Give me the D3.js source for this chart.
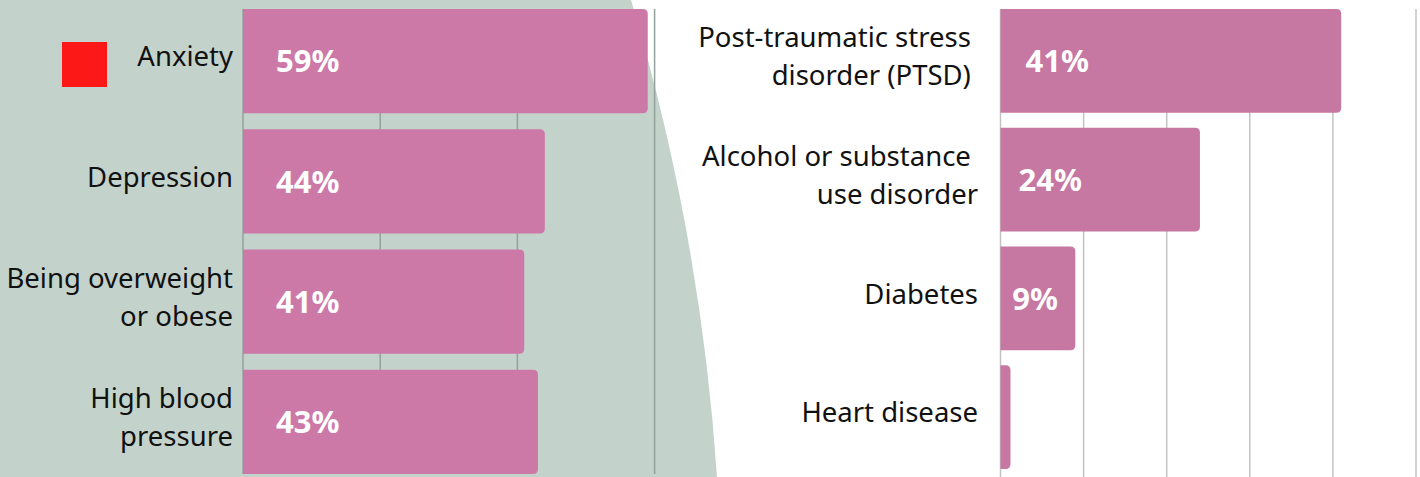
<!DOCTYPE html>
<html>
<head>
<meta charset="utf-8">
<script src="https://cdn.jsdelivr.net/npm/d3@7"></script>
<style>
  body { margin: 0; background: #fff; }
  svg { display: block; font-family: "Noto Sans", sans-serif; }
</style>
</head>
<body>
<div id="chart"></div>
<script>
// Data
var leftLabels = [["Anxiety"], ["Depression"], ["Being overweight", "or obese"], ["High blood", "pressure"]];
var leftValues = [59, 44, 41, 43];
var leftTicks = [0, 20, 40, 60];

var rightLabels = [["Post-traumatic stress ", "disorder (PTSD) "], ["Alcohol or substance ", "use disorder"], ["Diabetes"], ["Heart disease"]];
var rightValues = [41, 24, 9, 1.2];
var rightShown = ["41%", "24%", "9%", ""];
var rightTicks = [0, 10, 20, 30, 40, 50];

var width = 1420;
var height = 477;

var svg = d3.select("#chart")
  .append("svg")
  .attr("width", width)
  .attr("height", height);

// green backdrop behind the left panel
svg.append("path")
  .attr("d", "M0,0 L631,0 A2180,2180 0 0,1 717,477 L0,477 Z")
  .attr("fill", "#c3d3cc");

// bar with square left end and rounded right end
function barPath(x0, y, w, h, r) {
  r = Math.min(r, w);
  return "M" + x0 + "," + y +
    "H" + (x0 + w - r) +
    "Q" + (x0 + w) + "," + y + " " + (x0 + w) + "," + (y + r) +
    "V" + (y + h - r) +
    "Q" + (x0 + w) + "," + (y + h) + " " + (x0 + w - r) + "," + (y + h) +
    "H" + x0 + "Z";
}

function drawPanel(opt) {
  var xScale = d3.scaleLinear()
    .domain([0, d3.max(opt.ticks)])
    .range([opt.x0, opt.x1]);

  var yScale = d3.scaleBand()
    .domain(d3.range(opt.values.length))
    .range([opt.y0, opt.y1])
    .paddingInner(opt.pad)
    .paddingOuter(0);

  var g = svg.append("g");

  // gridlines
  g.selectAll("line.grid")
    .data(opt.ticks)
    .enter()
    .append("line")
    .attr("x1", d => xScale(d))
    .attr("x2", d => xScale(d))
    .attr("y1", opt.y0)
    .attr("y2", opt.gridBottom)
    .attr("stroke", opt.gridColor)
    .attr("stroke-width", 1.5);

  // bars
  g.selectAll("path.bar")
    .data(opt.values)
    .enter()
    .append("path")
    .attr("d", (d, i) => barPath(xScale(0), yScale(i), xScale(d) - xScale(0), yScale.bandwidth(), 5))
    .attr("fill", opt.barColor);

  // value labels
  g.selectAll("text.val")
    .data(opt.values)
    .enter()
    .append("text")
    .attr("x", d => xScale(0) + opt.valPad(xScale(d) - xScale(0)))
    .attr("y", (d, i) => yScale(i) + yScale.bandwidth() / 2)
    .attr("dy", "0.36em")
    .attr("fill", "#fff")
    .attr("font-weight", "bold")
    .attr("font-size", 31)
    .text((d, i) => opt.shown[i]);

  // category labels
  var lineH = 38;
  var labels = g.selectAll("text.cat")
    .data(opt.labels)
    .enter()
    .append("text")
    .attr("text-anchor", "end")
    .attr("font-size", 27.5)
    .attr("fill", "#111")
    .style("white-space", "pre")
    .attr("transform", (d, i) => "translate(" + opt.labelX + "," + (yScale(i) + yScale.bandwidth() / 2 - 3) + ")");

  labels.selectAll("tspan")
    .data(d => d.map((t, j) => ({ t: t, j: j, n: d.length })))
    .enter()
    .append("tspan")
    .attr("x", 0)
    .attr("y", d => (d.j - (d.n - 1) / 2) * lineH)
    .attr("dy", "0.3em")
    .text(d => d.t);
}

drawPanel({
  labels: leftLabels, values: leftValues, ticks: leftTicks,
  shown: leftValues.map(v => v + "%"),
  x0: 243, x1: 654.6, y0: 9, y1: 474, pad: 0.133, gridBottom: 474,
  gridColor: "#93a39b", barColor: "#cd79a7", labelX: 233,
  valPad: w => 33
});

drawPanel({
  labels: rightLabels, values: rightValues, ticks: rightTicks,
  shown: rightShown,
  x0: 1000.5, x1: 1416, y0: 9, y1: 469, pad: 0.127, gridBottom: 477,
  gridColor: "#c2c2c2", barColor: "#c677a2", labelX: 978,
  valPad: w => 8 + w * 0.05
});

// red marker square beside the first category
svg.append("rect")
  .attr("x", 62)
  .attr("y", 42)
  .attr("width", 45)
  .attr("height", 45)
  .attr("fill", "#fd1818");
</script>
</body>
</html>
